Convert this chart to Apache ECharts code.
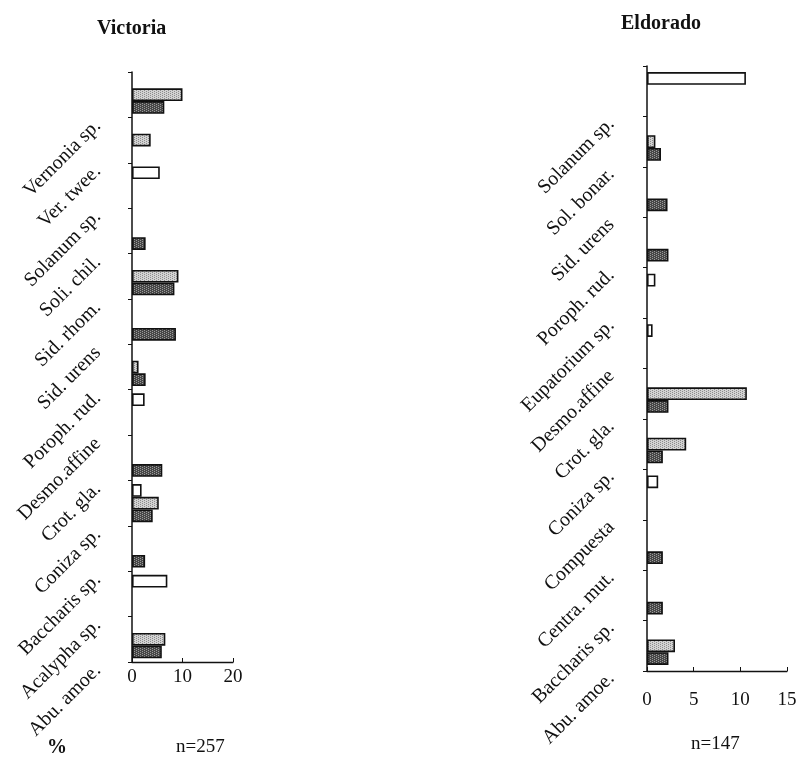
<!DOCTYPE html>
<html>
<head>
<meta charset="utf-8">
<script src="https://cdn.jsdelivr.net/npm/echarts@6/dist/echarts.min.js"></script>
<style>
  html, body { margin: 0; padding: 0; background: #ffffff; }
  #chart { width: 801px; height: 763px; }
</style>
</head>
<body>
<div id="chart"></div>
<script>
// Victoria: species listed bottom to top, values in %
const victoriaSpecies = ['Abu. amoe.', 'Acalypha sp.', 'Baccharis sp.', 'Coniza sp.', 'Crot. gla.',
  'Desmo.affine', 'Poroph. rud.', 'Sid. urens', 'Sid. rhom.', 'Soli. chil.', 'Solanum sp.',
  'Ver. twee.', 'Vernonia sp.'];
const victoriaLight = [6.6, null, null, 5.3, null, null, 1.3, null, 9.2, null, null, 3.7, 10.0];
const victoriaDark  = [5.9, null, 2.6, 4.1, 6.0, null, 2.7, 8.7, 8.4, 2.7, null, null, 6.4];
const victoriaOpen  = [null, 7.0, null, 1.9, null, 2.5, null, null, null, null, 5.5, null, null];
const victoriaTicks = [0, 10, 20];

// Eldorado: species listed bottom to top, values in %
const eldoradoSpecies = ['Abu. amoe.', 'Baccharis sp.', 'Centra. mut.', 'Compuesta', 'Coniza sp.',
  'Crot. gla.', 'Desmo.affine', 'Eupatorium sp.', 'Poroph. rud.', 'Sid. urens', 'Sol. bonar.',
  'Solanum sp.'];
const eldoradoLight = [3.0, null, null, null, 4.2, 10.7, null, null, null, null, 0.9, null];
const eldoradoDark  = [2.3, 1.7, 1.7, null, 1.7, 2.3, null, null, 2.3, 2.2, 1.5, null];
const eldoradoOpen  = [null, null, null, 1.2, null, null, 0.6, 0.9, null, null, null, 10.6];
const eldoradoTicks = [0, 5, 10, 15];

const SERIF = '"Liberation Serif", "Times New Roman", serif';

// small stippled fills for the shaded bars
function stipple(base, speck, size) {
  const c = document.createElement('canvas');
  c.width = size; c.height = size;
  const g = c.getContext('2d');
  g.fillStyle = base;
  g.fillRect(0, 0, size, size);
  g.fillStyle = speck;
  for (let y = 0; y < size; y++) {
    for (let x = 0; x < size; x++) {
      if ((x + 2 * y) % 4 === 0) g.fillRect(x, y, 1, 1);
    }
  }
  return { image: c, repeat: 'repeat' };
}
const lightFill = stipple('#d2d2d2', '#8c8c8c', 4);
const darkFill = stipple('#474747', '#9a9a9a', 4);

function xAxisFor(idx, ticks, labelGap) {
  return {
    gridIndex: idx,
    type: 'value',
    min: ticks[0],
    max: ticks[ticks.length - 1],
    interval: ticks[1] - ticks[0],
    axisLine: { show: true, lineStyle: { color: '#111', width: 1.3 } },
    axisTick: { show: true, inside: true, length: 4, lineStyle: { color: '#111' } },
    splitLine: { show: false },
    axisLabel: { fontFamily: SERIF, fontSize: 19, color: '#111', margin: labelGap }
  };
}

// rotated species names; the right padding slides each name back along its baseline
function yAxisFor(idx, cats, slide) {
  return {
    gridIndex: idx,
    type: 'category',
    data: cats,
    axisLine: { show: true, lineStyle: { color: '#111', width: 1.5 } },
    axisTick: { show: true, length: 4, lineStyle: { color: '#111' } },
    axisLabel: { fontFamily: SERIF, fontSize: 20, color: '#111', rotate: 45, margin: 6,
      padding: [0, slide, 0, 0] }
  };
}

function barSeries(idx, data, fill, gap) {
  return {
    type: 'bar',
    xAxisIndex: idx,
    yAxisIndex: idx,
    data: data,
    barGap: '0%',
    barCategoryGap: gap,
    silent: true,
    itemStyle: { color: fill, borderColor: '#111', borderWidth: 1.6 }
  };
}

const chart = echarts.init(document.getElementById('chart'), null, { renderer: 'canvas' });
chart.setOption({
  animation: false,
  backgroundColor: '#ffffff',
  title: [
    { text: 'Victoria', left: 92, top: 14,
      textStyle: { fontFamily: SERIF, fontSize: 20, fontWeight: 'bold', color: '#111' } },
    { text: 'Eldorado', left: 616, top: 9,
      textStyle: { fontFamily: SERIF, fontSize: 20, fontWeight: 'bold', color: '#111' } }
  ],
  grid: [
    { left: 132, top: 72, width: 101, height: 590 },
    { left: 647, top: 66, width: 140, height: 605 }
  ],
  xAxis: [xAxisFor(0, victoriaTicks, 6), xAxisFor(1, eldoradoTicks, 20)],
  yAxis: [yAxisFor(0, victoriaSpecies, 40), yAxisFor(1, eldoradoSpecies, 42)],
  series: [
    barSeries(0, victoriaOpen, '#ffffff', '16%'),
    barSeries(0, victoriaLight, lightFill, '16%'),
    barSeries(0, victoriaDark, darkFill, '16%'),
    barSeries(1, eldoradoOpen, '#ffffff', '24%'),
    barSeries(1, eldoradoLight, lightFill, '24%'),
    barSeries(1, eldoradoDark, darkFill, '24%')
  ],
  graphic: [
    { type: 'text', left: 47, top: 738,
      style: { text: '%', font: 'bold 20px ' + SERIF, fill: '#111' } },
    { type: 'text', left: 176, top: 738,
      style: { text: 'n=257', font: '19px ' + SERIF, fill: '#111' } },
    { type: 'text', left: 691, top: 735,
      style: { text: 'n=147', font: '19px ' + SERIF, fill: '#111' } }
  ]
});
</script>
</body>
</html>
